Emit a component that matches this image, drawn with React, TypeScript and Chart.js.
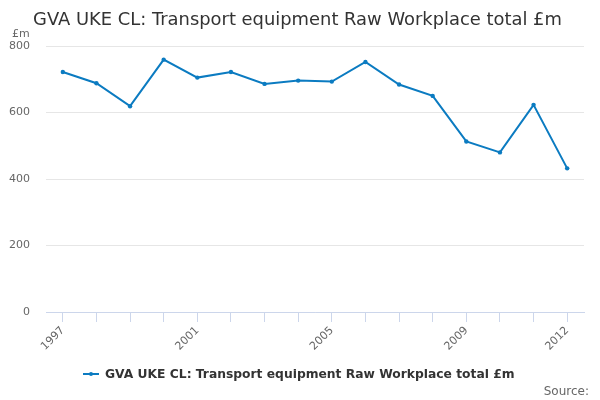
import { Chart, registerables, type ChartConfiguration, type Plugin } from "chart.js";
import { useEffect, useRef } from "react";

Chart.register(...registerables);

const years = [
  "1997", "1998", "1999", "2000", "2001", "2002", "2003", "2004",
  "2005", "2006", "2007", "2008", "2009", "2010", "2011", "2012",
];
const gvaValues = [722, 688, 619, 759, 705, 722, 686, 696, 693, 752, 684, 650, 513, 480, 623, 432];
const labelledYears = ["1997", "2001", "2005", "2009", "2012"];
const yMin = 0;
const yMax = 800;
const yStep = 200;

const titleText = "GVA UKE CL: Transport equipment Raw Workplace total £m";
const seriesName = "GVA UKE CL: Transport equipment Raw Workplace total £m";
const unitText = "£m";
const sourceText = "Source:";

const lineColor = "#0b7bc1";
const fontFamily = "'DejaVu Sans', sans-serif";

// title, unit label, legend and source are drawn by hand to sit where the original has them
const decorations: Plugin<"line"> = {
  id: "decorations",
  afterDraw(chart) {
    const ctx = chart.ctx;
    ctx.save();
    ctx.textBaseline = "alphabetic";

    ctx.fillStyle = "#333333";
    ctx.font = `17.9px ${fontFamily}`;
    ctx.textAlign = "center";
    ctx.fillText(titleText, 297.5, 25);

    ctx.fillStyle = "#666666";
    ctx.font = `11px ${fontFamily}`;
    ctx.textAlign = "left";
    ctx.fillText(unitText, 12, 37);

    ctx.font = `12px ${fontFamily}`;
    ctx.textAlign = "right";
    ctx.fillText(sourceText, 589, 395);

    // legend
    ctx.strokeStyle = lineColor;
    ctx.lineWidth = 2;
    ctx.beginPath();
    ctx.moveTo(83, 374);
    ctx.lineTo(99, 374);
    ctx.stroke();
    ctx.fillStyle = lineColor;
    ctx.beginPath();
    ctx.arc(91, 374, 2, 0, Math.PI * 2);
    ctx.fill();
    ctx.fillStyle = "#333333";
    ctx.font = `bold 12.3px ${fontFamily}`;
    ctx.textAlign = "left";
    ctx.fillText(seriesName, 105, 378);

    ctx.restore();
  },
};

const App = () => {
  const canvasRef = useRef<HTMLCanvasElement | null>(null);

  useEffect(() => {
    document.body.style.margin = "0";
    if (!canvasRef.current) return;
    Chart.defaults.font.family = fontFamily;

    const config: ChartConfiguration<"line", number[], string> = {
      type: "line",
      data: {
        labels: years,
        datasets: [
          {
            label: seriesName,
            data: gvaValues,
            borderColor: lineColor,
            backgroundColor: lineColor,
            borderWidth: 2,
            pointRadius: 2.2,
            pointBorderWidth: 0,
            pointHoverRadius: 3,
            tension: 0,
            fill: false,
          },
        ],
      },
      options: {
        responsive: true,
        maintainAspectRatio: false,
        animation: false,
        layout: { padding: { left: 0, right: 16, top: 46, bottom: 0 } },
        plugins: {
          legend: { display: false },
          title: { display: false },
          tooltip: { enabled: false },
        },
        scales: {
          x: {
            offset: true,
            grid: {
              display: true,
              offset: false,
              drawOnChartArea: false,
              drawTicks: true,
              tickLength: 10,
              tickColor: "#ccd6eb",
            },
            border: { display: true, color: "#ccd6eb", width: 1 },
            ticks: {
              autoSkip: false,
              maxRotation: 45,
              minRotation: 45,
              padding: 2,
              color: "#666666",
              font: { size: 11 },
              callback: (_value, index) =>
                labelledYears.includes(years[index]) ? years[index] : "",
            },
            afterFit: (scale) => {
              scale.height = 88;
            },
          },
          y: {
            min: yMin,
            max: yMax,
            grid: { color: "#e6e6e6", drawTicks: false },
            border: { display: false },
            ticks: {
              stepSize: yStep,
              padding: 16,
              color: "#666666",
              font: { size: 11 },
            },
            afterFit: (scale) => {
              scale.width = 46;
            },
          },
        },
      },
      plugins: [decorations],
    };

    const chart = new Chart(canvasRef.current, config);
    return () => {
      chart.destroy();
    };
  }, []);

  return (
    <div style={{ position: "relative", width: 600, height: 400 }}>
      <canvas ref={canvasRef}></canvas>
    </div>
  );
};

export default App;
